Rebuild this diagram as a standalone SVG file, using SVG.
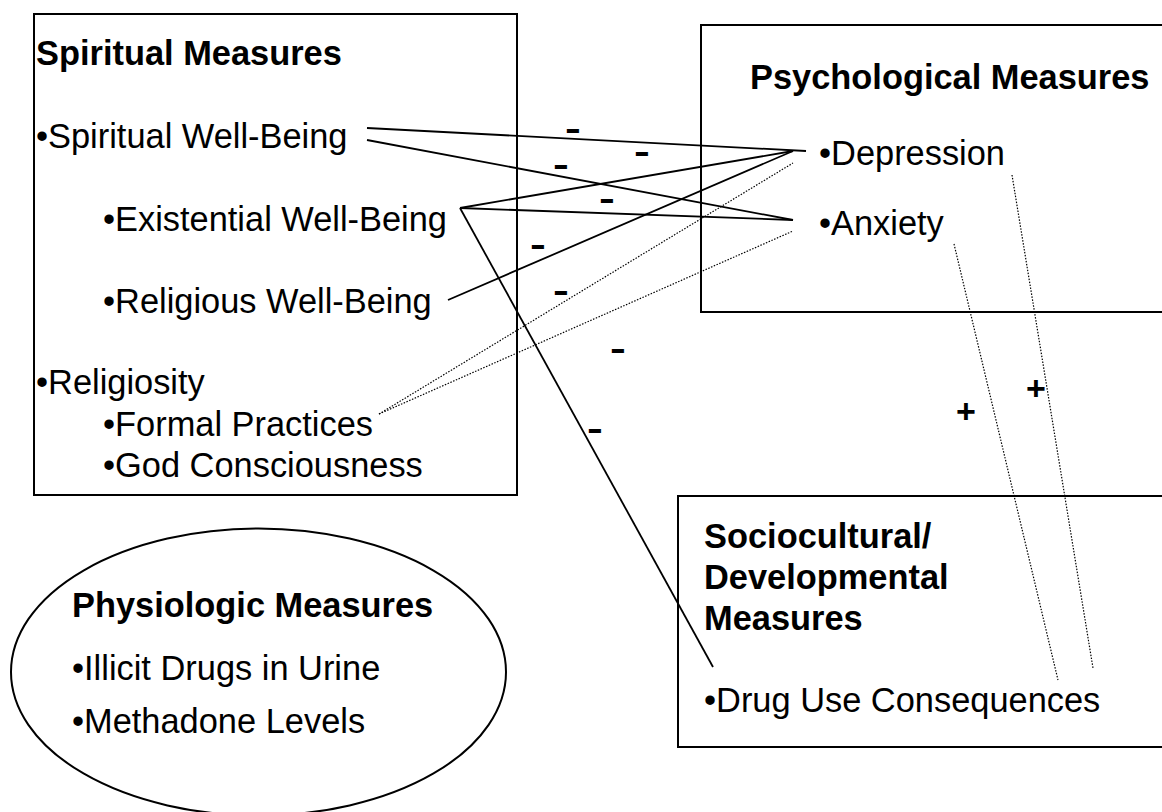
<svg xmlns="http://www.w3.org/2000/svg" width="1162" height="812" viewBox="0 0 1162 812">
<style>
.box{fill:#fff;stroke:#000;stroke-width:2}
.t{font-family:"Liberation Sans",Arial,sans-serif;font-size:34.4px;fill:#000}
.b{font-weight:bold}
.sol{stroke:#000;stroke-width:1.8;fill:none}
.dot{stroke:#000;stroke-width:1.2;stroke-dasharray:1.5 1.5;fill:none}
.sg{font-family:"Liberation Sans",Arial,sans-serif;font-size:34px;font-weight:bold;fill:#000;text-anchor:middle}
</style>
<rect width="1162" height="812" fill="#fff"/>
<g id="spiritual">
<rect class="box" x="34" y="14" width="483" height="481"/>
<text class="t b" x="36" y="65">Spiritual Measures</text>
<text class="t" x="36" y="148">•Spiritual Well-Being</text>
<text class="t" x="103" y="231">•Existential Well-Being</text>
<text class="t" x="103" y="313">•Religious Well-Being</text>
<text class="t" x="36" y="394">•Religiosity</text>
<text class="t" x="103" y="436">•Formal Practices</text>
<text class="t" x="103" y="477">•God Consciousness</text>
</g>
<g id="psychological">
<rect class="box" x="701" y="25" width="480" height="287"/>
<text class="t b" x="750" y="89">Psychological Measures</text>
<text class="t" x="819" y="165">•Depression</text>
<text class="t" x="819" y="235">•Anxiety</text>
</g>
<g id="sociocultural">
<rect class="box" x="678" y="496" width="500" height="251"/>
<text class="t b" x="704" y="548">Sociocultural/</text>
<text class="t b" x="704" y="589">Developmental</text>
<text class="t b" x="704" y="630">Measures</text>
<text class="t" x="704" y="712">•Drug Use Consequences</text>
</g>
<g id="physiologic">
<ellipse class="box" cx="258.5" cy="672" rx="247.5" ry="143.5"/>
<text class="t b" x="72" y="617">Physiologic Measures</text>
<text class="t" x="72" y="680">•Illicit Drugs in Urine</text>
<text class="t" x="72" y="733">•Methadone Levels</text>
</g>
<g id="connectors">
<line class="sol" x1="367" y1="128" x2="806" y2="151"/>
<line class="sol" x1="367" y1="140" x2="793" y2="220"/>
<line class="sol" x1="460" y1="208" x2="793" y2="151"/>
<line class="sol" x1="460" y1="208" x2="793" y2="220"/>
<line class="sol" x1="460" y1="208" x2="713" y2="667"/>
<line class="sol" x1="448" y1="300" x2="793" y2="151"/>
<line class="dot" x1="379" y1="414" x2="793" y2="163"/>
<line class="dot" x1="379" y1="414" x2="793" y2="231"/>
<line class="dot" x1="954" y1="244" x2="1058" y2="680"/>
<line class="dot" x1="1012" y1="175" x2="1093" y2="668"/>
</g>
<g id="signs">
<text class="sg" transform="translate(573,140) scale(1.4,1)">-</text>
<text class="sg" transform="translate(642,163) scale(1.4,1)">-</text>
<text class="sg" transform="translate(561,176) scale(1.4,1)">-</text>
<text class="sg" transform="translate(607,210) scale(1.4,1)">-</text>
<text class="sg" transform="translate(538,256) scale(1.4,1)">-</text>
<text class="sg" transform="translate(561,302) scale(1.4,1)">-</text>
<text class="sg" transform="translate(618,360) scale(1.4,1)">-</text>
<text class="sg" transform="translate(595,440) scale(1.4,1)">-</text>
<text class="sg" x="966" y="423">+</text>
<text class="sg" x="1036" y="400">+</text>
</g>
</svg>
